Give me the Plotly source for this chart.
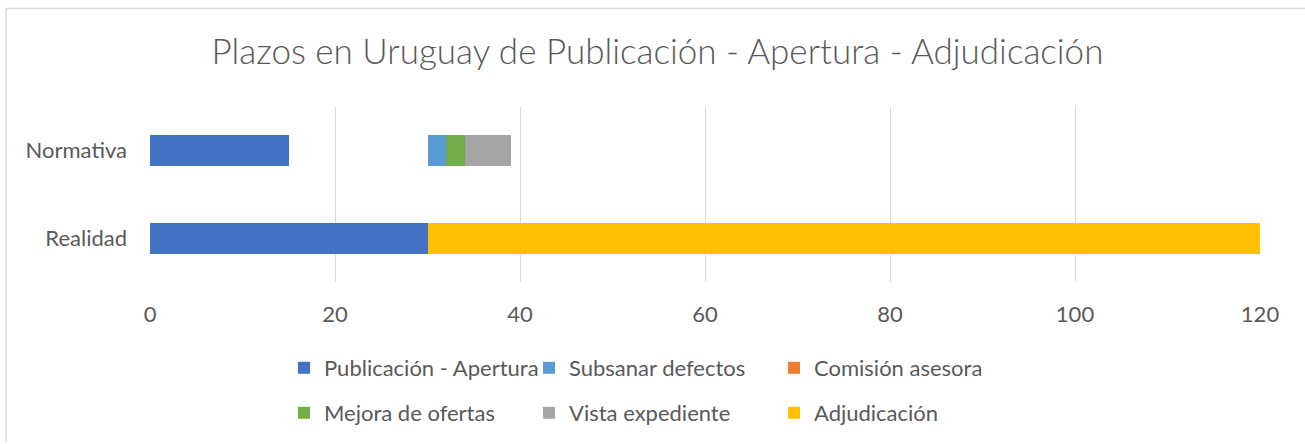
import plotly.graph_objects as go

categories = ["Realidad", "Normativa"]
publicacion_apertura = [30, 15]
espera = [0, 15]  # hidden spacer segment (no fill in the original)
subsanar_defectos = [0, 2]
comision_asesora = [0, 0]
mejora_ofertas = [0, 2]
vista_expediente = [0, 5]
adjudicacion = [90, 0]

x_ticks = [0, 20, 40, 60, 80, 100, 120]
title_text = "Plazos en Uruguay de Publicación - Apertura - Adjudicación"

FONT = "Lato, Carlito, Calibri, sans-serif"
GREY = "#595959"

W, H = 1305, 444
L, R, T, B = 150, 45, 107, 161
PW, PH = W - L - R, H - T - B

series = [
    ("Publicación - Apertura", publicacion_apertura, "#4472C4", "legend"),
    (None, espera, "rgba(0,0,0,0)", None),
    ("Subsanar defectos", subsanar_defectos, "#5B9BD5", "legend"),
    ("Comisión asesora", comision_asesora, "#ED7D31", "legend"),
    ("Mejora de ofertas", mejora_ofertas, "#70AD47", "legend2"),
    ("Vista expediente", vista_expediente, "#A5A5A5", "legend2"),
    ("Adjudicación", adjudicacion, "#FFC000", "legend2"),
]

fig = go.Figure()
for name, vals, color, leg in series:
    if name is None:
        fig.add_trace(go.Bar(y=categories, x=vals, orientation="h",
                             marker=dict(color=color,
                                         line=dict(width=0, color="rgba(0,0,0,0)")),
                             opacity=0, showlegend=False, hoverinfo="skip"))
    else:
        fig.add_trace(go.Bar(y=categories, x=vals, orientation="h", name=name,
                             marker=dict(color=color, line=dict(width=0)),
                             legend=leg))

def px_x(p):
    return (p - L) / PW

def px_y(p):
    return (H - B - p) / PH

fig.update_layout(
    width=W, height=H,
    margin=dict(l=L, r=R, t=T, b=B),
    barmode="stack",
    bargap=0.65,
    plot_bgcolor="white",
    paper_bgcolor="white",
    font=dict(family=FONT, color=GREY, size=22),
    title=dict(text=title_text, x=0.5 + 5 / W, xref="container", xanchor="center",
               y=1 - 52 / H, yref="container", yanchor="middle",
               font=dict(family=FONT, size=35, color=GREY, weight=300)),
    xaxis=dict(range=[0, 120], tickvals=x_ticks, showgrid=True,
               gridcolor="#D9D9D9", gridwidth=1, zeroline=False,
               showline=False, ticks="", ticklabelstandoff=17,
               tickfont=dict(size=22, color=GREY)),
    yaxis=dict(showgrid=False, zeroline=False, showline=False, ticks="",
               ticklabelstandoff=22, tickfont=dict(size=22, color=GREY)),
    legend=dict(orientation="h", x=px_x(284), xanchor="left",
                y=px_y(368), yanchor="middle", entrywidth=200,
                font=dict(size=22, color=GREY), traceorder="normal",
                itemclick=False, itemdoubleclick=False),
    legend2=dict(orientation="h", x=px_x(284), xanchor="left",
                 y=px_y(413), yanchor="middle", entrywidth=200,
                 font=dict(size=22, color=GREY), traceorder="normal",
                 itemclick=False, itemdoubleclick=False),
    shapes=[
        dict(type="line", xref="paper", yref="paper",
             x0=px_x(6), x1=px_x(W), y0=px_y(8), y1=px_y(8),
             line=dict(color="#D9D9D9", width=1.5)),
        dict(type="line", xref="paper", yref="paper",
             x0=px_x(6), x1=px_x(6), y0=px_y(8), y1=px_y(H),
             line=dict(color="#D9D9D9", width=1.5)),
    ],
)

fig.write_html("out.html", config={"displayModeBar": False},
               post_script="document.body.style.margin='0';")
